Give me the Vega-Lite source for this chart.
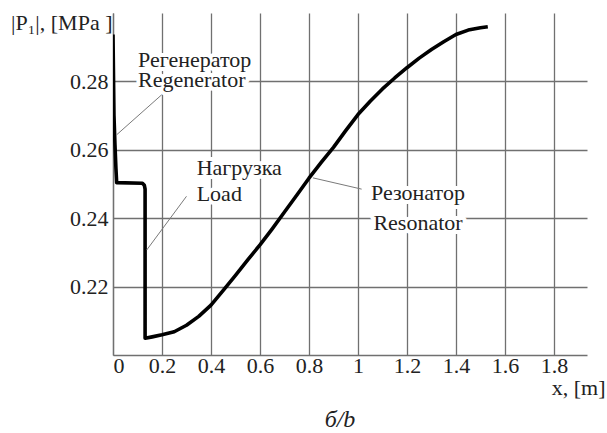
{
  "$schema": "https://vega.github.io/schema/vega-lite/v6.json",
  "width": 474,
  "height": 342,
  "autosize": {"type": "none"},
  "padding": {"left": 113, "top": 13, "right": 20, "bottom": 78},
  "background": "white",
  "config": {
    "view": {"stroke": null},
    "axis": {
      "domainColor": "#707070",
      "domainWidth": 1.3,
      "gridColor": "#707070",
      "gridWidth": 1.3,
      "gridOpacity": 1,
      "ticks": false,
      "labelFont": "Liberation Serif",
      "labelFontSize": 22,
      "labelColor": "#222222",
      "titleFont": "Liberation Serif",
      "titleFontSize": 22,
      "titleFontWeight": "normal",
      "titleColor": "#222222"
    }
  },
  "title": {
    "text": "б/b",
    "orient": "bottom",
    "anchor": "middle",
    "font": "Liberation Serif",
    "fontSize": 24,
    "fontStyle": "italic",
    "fontWeight": "normal",
    "color": "#222222",
    "offset": 10,
    "dx": -10
  },
  "datasets": {
    "curve": [
      {"i": 0, "x": 0, "p": 0.2937},
      {"i": 1, "x": 0.004, "p": 0.27},
      {"i": 2, "x": 0.008, "p": 0.2615},
      {"i": 3, "x": 0.012, "p": 0.2545},
      {"i": 4, "x": 0.015, "p": 0.2504},
      {"i": 5, "x": 0.12, "p": 0.2502},
      {"i": 6, "x": 0.128, "p": 0.2496},
      {"i": 7, "x": 0.131, "p": 0.2485},
      {"i": 8, "x": 0.131, "p": 0.2049},
      {"i": 9, "x": 0.16, "p": 0.2053},
      {"i": 10, "x": 0.2, "p": 0.2059},
      {"i": 11, "x": 0.25, "p": 0.2068},
      {"i": 12, "x": 0.3, "p": 0.2087},
      {"i": 13, "x": 0.35, "p": 0.2113},
      {"i": 14, "x": 0.4, "p": 0.2146},
      {"i": 15, "x": 0.45, "p": 0.2189},
      {"i": 16, "x": 0.5, "p": 0.2233},
      {"i": 17, "x": 0.55, "p": 0.2278},
      {"i": 18, "x": 0.6, "p": 0.2322},
      {"i": 19, "x": 0.65, "p": 0.2369},
      {"i": 20, "x": 0.7, "p": 0.2418},
      {"i": 21, "x": 0.75, "p": 0.2467},
      {"i": 22, "x": 0.8, "p": 0.2517},
      {"i": 23, "x": 0.85, "p": 0.2563},
      {"i": 24, "x": 0.9, "p": 0.2607},
      {"i": 25, "x": 0.95, "p": 0.2656},
      {"i": 26, "x": 1.0, "p": 0.2703},
      {"i": 27, "x": 1.05, "p": 0.2742},
      {"i": 28, "x": 1.1, "p": 0.2778},
      {"i": 29, "x": 1.15, "p": 0.281},
      {"i": 30, "x": 1.2, "p": 0.284},
      {"i": 31, "x": 1.25, "p": 0.2868},
      {"i": 32, "x": 1.3, "p": 0.2893},
      {"i": 33, "x": 1.35, "p": 0.2916},
      {"i": 34, "x": 1.4, "p": 0.2937},
      {"i": 35, "x": 1.45, "p": 0.295},
      {"i": 36, "x": 1.5, "p": 0.2957},
      {"i": 37, "x": 1.53, "p": 0.296}
    ],
    "leaders": [
      {"x": 0.015, "p": 0.2644, "x2": 0.199, "p2": 0.2761},
      {"x": 0.1376, "p": 0.2307, "x2": 0.3, "p2": 0.2464},
      {"x": 0.816, "p": 0.2518, "x2": 1.015, "p2": 0.2485}
    ],
    "leftLabels": [
      {"label": "Регенератор", "x": 0.102, "p": 0.2843},
      {"label": "Regenerator", "x": 0.102, "p": 0.2784},
      {"label": "Нагрузка", "x": 0.3416, "p": 0.2527},
      {"label": "Load", "x": 0.3416, "p": 0.2449}
    ],
    "centerLabels": [
      {"label": "Резонатор", "x": 1.245, "p": 0.2454},
      {"label": "Resonator", "x": 1.245, "p": 0.2366}
    ]
  },
  "layer": [
    {
      "data": {"name": "curve"},
      "mark": {"type": "line", "color": "#000000", "strokeWidth": 3.6, "strokeJoin": "round", "clip": true},
      "encoding": {
        "x": {
          "field": "x", "type": "quantitative",
          "scale": {"domain": [0, 1.935], "nice": false, "zero": false},
          "axis": {
            "values": [0, 0.2, 0.4, 0.6, 0.8, 1, 1.2, 1.4, 1.6, 1.8],
            "format": "~g",
            "labelPadding": 0,
            "title": "x, [m]",
            "titleAnchor": "start",
            "titleAlign": "right",
            "titleBaseline": "alphabetic",
            "titleX": 492,
            "titleY": 39
          }
        },
        "y": {
          "field": "p", "type": "quantitative",
          "scale": {"domain": [0.2, 0.3], "nice": false, "zero": false},
          "axis": {
            "values": [0.22, 0.24, 0.26, 0.28],
            "format": ".2f",
            "labelPadding": 5,
            "title": "|P₁|, [MPa ]",
            "titleAngle": 0,
            "titleAlign": "right",
            "titleBaseline": "alphabetic",
            "titleX": -1,
            "titleY": 16
          }
        },
        "order": {"field": "i", "type": "quantitative"}
      }
    },
    {
      "data": {"name": "leaders"},
      "mark": {"type": "rule", "color": "#7a7a7a", "strokeWidth": 1},
      "encoding": {
        "x": {"field": "x", "type": "quantitative"},
        "y": {"field": "p", "type": "quantitative"},
        "x2": {"field": "x2"},
        "y2": {"field": "p2"}
      }
    },
    {
      "data": {"name": "leftLabels"},
      "mark": {"type": "text", "font": "Liberation Serif", "fontSize": 22, "color": "white", "stroke": "white", "strokeWidth": 8, "strokeJoin": "round", "align": "left", "baseline": "alphabetic"},
      "encoding": {
        "x": {"field": "x", "type": "quantitative"},
        "y": {"field": "p", "type": "quantitative"},
        "text": {"field": "label"}
      }
    },
    {
      "data": {"name": "centerLabels"},
      "mark": {"type": "text", "font": "Liberation Serif", "fontSize": 22, "color": "white", "stroke": "white", "strokeWidth": 8, "strokeJoin": "round", "align": "center", "baseline": "alphabetic"},
      "encoding": {
        "x": {"field": "x", "type": "quantitative"},
        "y": {"field": "p", "type": "quantitative"},
        "text": {"field": "label"}
      }
    },
    {
      "data": {"name": "leftLabels"},
      "mark": {"type": "text", "font": "Liberation Serif", "fontSize": 22, "color": "#222222", "align": "left", "baseline": "alphabetic"},
      "encoding": {
        "x": {"field": "x", "type": "quantitative"},
        "y": {"field": "p", "type": "quantitative"},
        "text": {"field": "label"}
      }
    },
    {
      "data": {"name": "centerLabels"},
      "mark": {"type": "text", "font": "Liberation Serif", "fontSize": 22, "color": "#222222", "align": "center", "baseline": "alphabetic"},
      "encoding": {
        "x": {"field": "x", "type": "quantitative"},
        "y": {"field": "p", "type": "quantitative"},
        "text": {"field": "label"}
      }
    }
  ]
}
